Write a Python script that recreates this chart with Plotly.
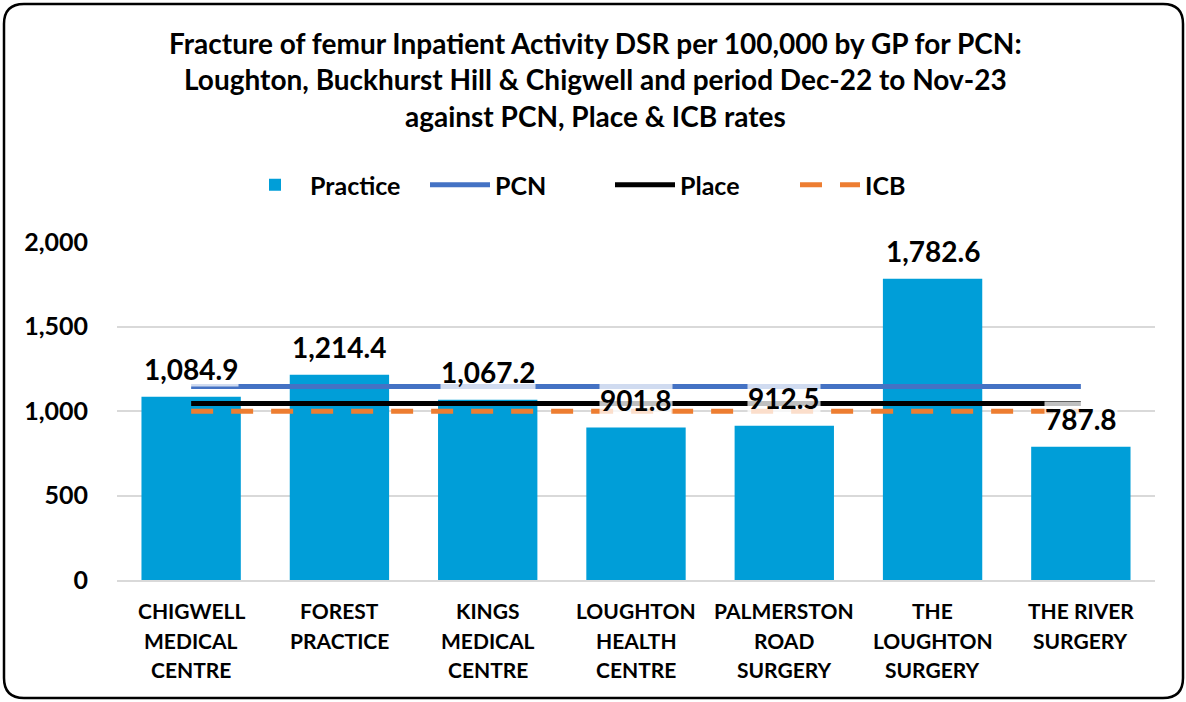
import plotly.graph_objects as go

# ---- data ----
categories = ["CHIGWELL MEDICAL CENTRE", "FOREST PRACTICE", "KINGS MEDICAL CENTRE",
              "LOUGHTON HEALTH CENTRE", "PALMERSTON ROAD SURGERY",
              "THE LOUGHTON SURGERY", "THE RIVER SURGERY"]
category_lines = [["CHIGWELL", "MEDICAL", "CENTRE"], ["FOREST", "PRACTICE"],
                  ["KINGS", "MEDICAL", "CENTRE"], ["LOUGHTON", "HEALTH", "CENTRE"],
                  ["PALMERSTON", "ROAD", "SURGERY"], ["THE", "LOUGHTON", "SURGERY"],
                  ["THE RIVER", "SURGERY"]]
practice = [1084.9, 1214.4, 1067.2, 901.8, 912.5, 1782.6, 787.8]
pcn_rate = 1145.0
place_rate = 1045.0
icb_rate = 998.0
y_ticks = [0, 500, 1000, 1500, 2000]

FONT = "Lato, 'Liberation Sans', sans-serif"

# ---- layout geometry (pixels) ----
W, H = 1186, 702
L, R, T, B = 117, 31, 242, 122
pw, ph = W - L - R, H - T - B

def px_x(px):
    return (px - L) / pw

def px_y(py):
    return (H - B - py) / ph

fig = go.Figure()
fig.add_trace(go.Bar(x=categories, y=practice, name="Practice",
                     marker=dict(color="#009ED8", line=dict(width=0))))
fig.add_trace(go.Scatter(x=categories, y=[pcn_rate] * len(categories), name="PCN",
                         mode="lines", line=dict(color="#4472C4", width=5)))
fig.add_trace(go.Scatter(x=categories, y=[place_rate] * len(categories), name="Place",
                         mode="lines", line=dict(color="#000000", width=5)))
fig.add_trace(go.Scatter(x=categories, y=[icb_rate] * len(categories), name="ICB",
                         mode="lines", line=dict(color="#ED7D31", width=5, dash="22px,18px")))

annotations = []
for c, v in zip(categories, practice):
    annotations.append(dict(x=c, y=v, xref="x", yref="y", text=f"<b>{v:,.1f}</b>",
                            showarrow=False, yanchor="bottom", yshift=10,
                            font=dict(family=FONT, size=28, color="#000000"),
                            bgcolor="rgba(255,255,255,0.75)", borderpad=0))
line_py = [610, 640, 669]
for c, lines in zip(categories, category_lines):
    for i, t in enumerate(lines):
        annotations.append(dict(x=c, y=px_y(line_py[i]), xref="x", yref="paper",
                                text=f"<b>{t}</b>", showarrow=False, yanchor="middle",
                                font=dict(family=FONT, size=21, color="#000000")))

# rounded outer border
x0, x1 = px_x(4), px_x(1183)
y0, y1 = px_y(698), px_y(4)
rx, ry = 20 / pw, 20 / ph
path = (f"M {x0+rx},{y1} L {x1-rx},{y1} Q {x1},{y1} {x1},{y1-ry} "
        f"L {x1},{y0+ry} Q {x1},{y0} {x1-rx},{y0} L {x0+rx},{y0} "
        f"Q {x0},{y0} {x0},{y0+ry} L {x0},{y1-ry} Q {x0},{y1} {x0+rx},{y1} Z")

fig.update_layout(
    width=W, height=H,
    margin=dict(l=L, r=R, t=T, b=B, autoexpand=False),
    paper_bgcolor="white", plot_bgcolor="white",
    title=dict(text="<b>Fracture of femur Inpatient Activity DSR per 100,000 by GP for PCN:<br>"
                    "Loughton, Buckhurst Hill & Chigwell and period Dec-22 to Nov-23<br>"
                    "against PCN, Place & ICB rates</b>",
               x=0.502, xanchor="center", xref="container",
               y=1 - 54 / H, yanchor="middle", yref="container",
               font=dict(family=FONT, size=28, color="#000000")),
    legend=dict(orientation="h", x=px_x(240), xanchor="left", y=px_y(185), yanchor="middle",
                font=dict(family=FONT, size=25, color="#000000", weight="bold"), itemwidth=60,
                entrywidth=110, entrywidthmode="pixels",
                traceorder="normal", bgcolor="rgba(0,0,0,0)"),
    bargap=0.33,
    xaxis=dict(type="category", range=[-0.5, 6.5], showticklabels=False, showgrid=False,
               showline=True, linecolor="#D9D9D9", linewidth=1.5, zeroline=False, ticks=""),
    yaxis=dict(range=[0, 2000], tickvals=y_ticks, tickformat=",", showgrid=True,
               gridcolor="#D9D9D9", gridwidth=1.5, zeroline=False, showline=False,
               ticks="", ticklabelstandoff=28,
               tickfont=dict(family=FONT, size=25, color="#000000", weight="bold")),
    annotations=annotations,
    shapes=[dict(type="path", path=path, xref="paper", yref="paper",
                 line=dict(color="#000000", width=2.5), fillcolor="rgba(0,0,0,0)", layer="above")],
    showlegend=True,
)

fig.write_html("out.html", config={"displayModeBar": False},
               post_script="document.body.style.margin='0';document.body.style.padding='0';")
